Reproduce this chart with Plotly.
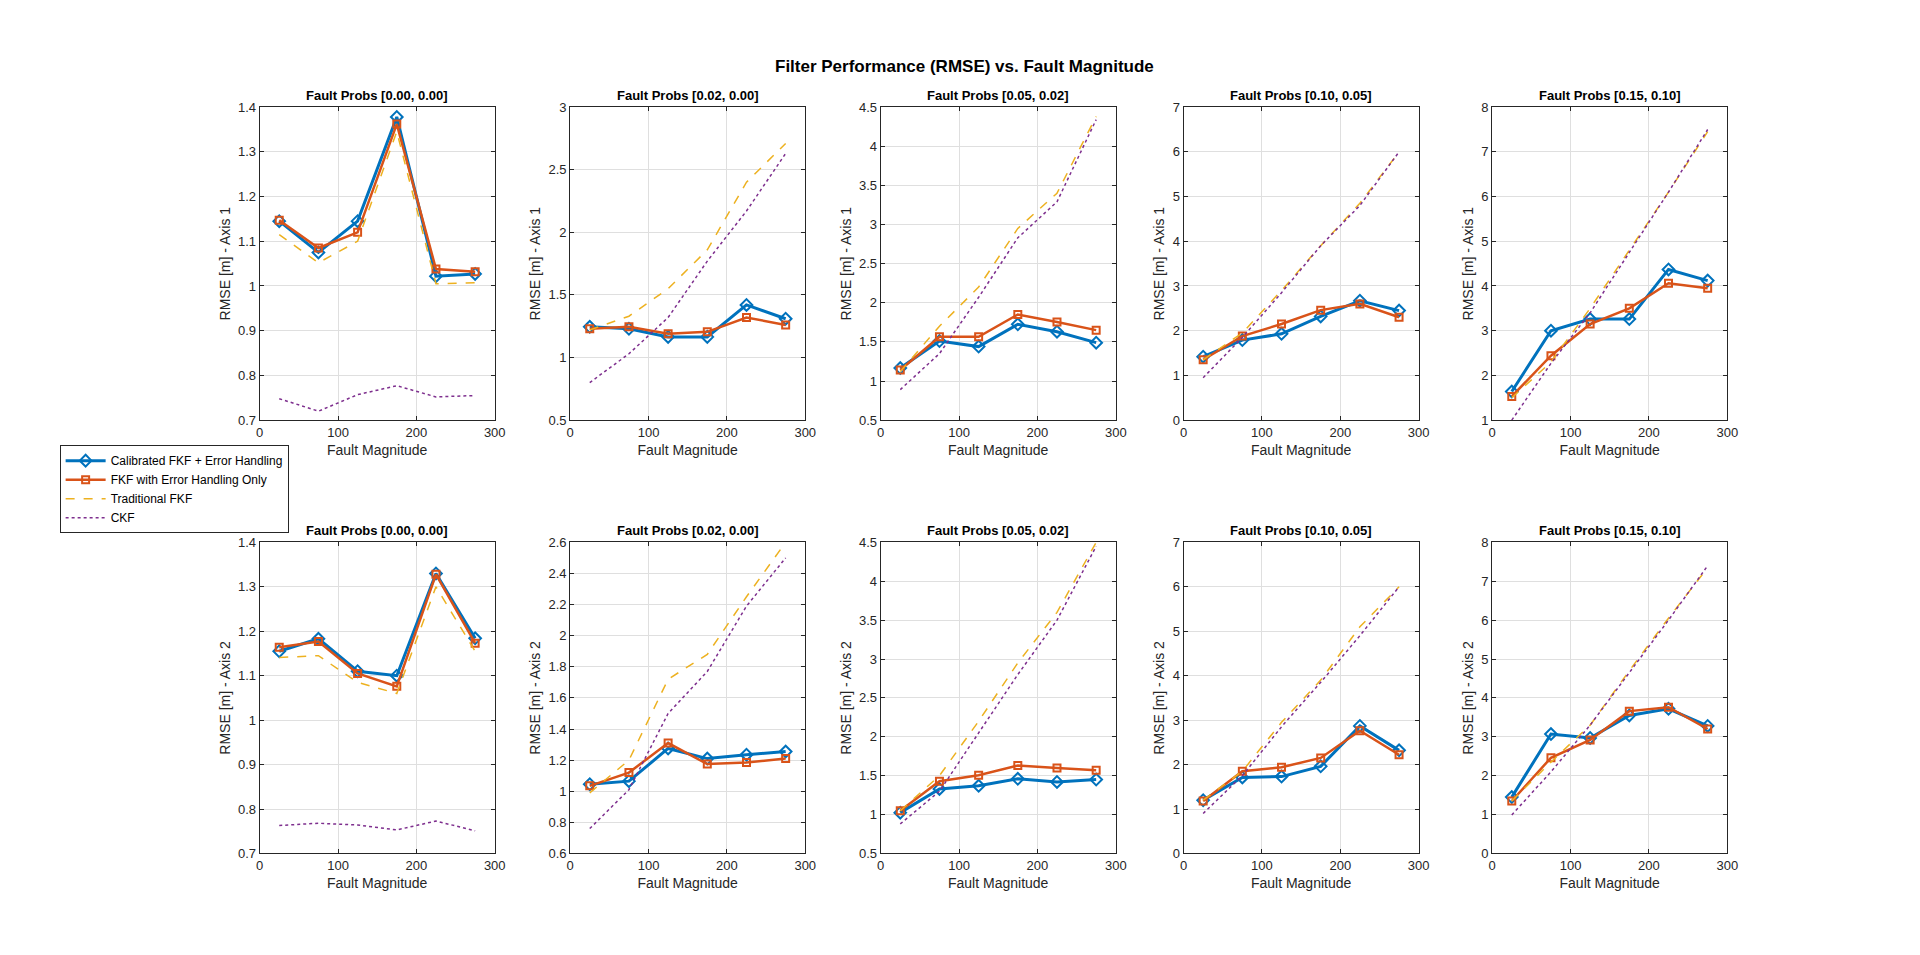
import plotly.graph_objects as go

fault_mag = [25, 75, 125, 175, 225, 275]
probs = ["[0.00, 0.00]", "[0.02, 0.00]", "[0.05, 0.02]", "[0.10, 0.05]", "[0.15, 0.10]"]
names = ["Calibrated FKF + Error Handling", "FKF with Error Handling Only", "Traditional FKF", "CKF"]

# axis 1 (top row)
cal_ax1 = [
    [1.145, 1.075, 1.145, 1.378, 1.022, 1.027],
    [1.245, 1.23, 1.165, 1.165, 1.42, 1.31],
    [1.165, 1.51, 1.44, 1.725, 1.63, 1.49],
    [1.42, 1.79, 1.93, 2.32, 2.67, 2.45],
    [1.64, 3.0, 3.26, 3.26, 4.37, 4.12],
]
eh_ax1 = [
    [1.147, 1.085, 1.12, 1.362, 1.038, 1.032],
    [1.23, 1.245, 1.19, 1.205, 1.32, 1.26],
    [1.14, 1.565, 1.565, 1.85, 1.755, 1.65],
    [1.35, 1.88, 2.15, 2.46, 2.6, 2.3],
    [1.53, 2.44, 3.15, 3.5, 4.06, 3.95],
]
trad_ax1 = [
    [1.115, 1.052, 1.10, 1.345, 1.005, 1.007],
    [1.22, 1.33, 1.55, 1.86, 2.40, 2.71],
    [1.12, 1.7, 2.2, 2.95, 3.4, 4.38],
    [1.35, 1.95, 2.9, 3.9, 4.85, 6.0],
    [1.5, 2.3, 3.5, 4.8, 6.1, 7.45],
]
ckf_ax1 = [
    [0.748, 0.72, 0.757, 0.777, 0.752, 0.755],
    [0.80, 1.03, 1.32, 1.77, 2.17, 2.63],
    [0.89, 1.35, 2.07, 2.83, 3.29, 4.34],
    [0.95, 1.85, 2.85, 3.9, 4.8, 6.0],
    [1.0, 2.27, 3.4, 4.75, 6.1, 7.5],
]

# axis 2 (bottom row)
cal_ax2 = [
    [1.155, 1.183, 1.11, 1.10, 1.33, 1.184],
    [1.045, 1.065, 1.275, 1.21, 1.235, 1.255],
    [1.025, 1.33, 1.37, 1.46, 1.42, 1.45],
    [1.2, 1.71, 1.73, 1.96, 2.87, 2.32],
    [1.45, 3.07, 2.97, 3.55, 3.72, 3.28],
]
eh_ax2 = [
    [1.164, 1.177, 1.105, 1.076, 1.328, 1.173],
    [1.035, 1.12, 1.31, 1.175, 1.185, 1.21],
    [1.05, 1.43, 1.505, 1.63, 1.6, 1.57],
    [1.18, 1.85, 1.94, 2.15, 2.76, 2.22],
    [1.35, 2.46, 2.92, 3.66, 3.76, 3.2],
]
trad_ax2 = [
    [1.141, 1.145, 1.085, 1.06, 1.30, 1.155],
    [0.99, 1.2, 1.72, 1.88, 2.25, 2.6],
    [1.05, 1.5, 2.2, 2.95, 3.6, 4.5],
    [1.2, 1.85, 2.95, 3.9, 5.1, 6.0],
    [1.35, 2.35, 3.3, 4.7, 6.05, 7.35],
]
ckf_ax2 = [
    [0.763, 0.768, 0.764, 0.753, 0.773, 0.751],
    [0.76, 1.01, 1.5, 1.77, 2.19, 2.5],
    [0.88, 1.3, 2.05, 2.8, 3.5, 4.45],
    [0.9, 1.75, 2.85, 3.85, 4.9, 6.0],
    [0.99, 2.1, 3.3, 4.65, 6.0, 7.4],
]

yranges_ax1 = [[0.7, 1.4], [0.5, 3], [0.5, 4.5], [0, 7], [1, 8]]
ydtick_ax1 = [0.1, 0.5, 0.5, 1, 1]
yranges_ax2 = [[0.7, 1.4], [0.6, 2.6], [0.5, 4.5], [0, 7], [0, 8]]
ydtick_ax2 = [0.1, 0.2, 0.5, 1, 1]

colors = ["#0072BD", "#D95319", "#EDB120", "#7E2F8E"]
font = "Liberation Sans, Arial, sans-serif"

x_lefts = [0.130, 0.293, 0.456, 0.615, 0.777]
x_w = 0.1234
y_doms = [[0.569, 0.902], [0.108, 0.439]]

fig = go.Figure()
annotations = []
rows = [(cal_ax1, eh_ax1, trad_ax1, ckf_ax1, yranges_ax1, ydtick_ax1, "RMSE [m] - Axis 1"),
        (cal_ax2, eh_ax2, trad_ax2, ckf_ax2, yranges_ax2, ydtick_ax2, "RMSE [m] - Axis 2")]

n = 0
for r, (cal, eh, trad, ckf, yr, dt, ylab) in enumerate(rows):
    for c in range(5):
        n += 1
        xa = "x" if n == 1 else f"x{n}"
        ya = "y" if n == 1 else f"y{n}"
        show = n == 1
        fig.add_trace(go.Scatter(x=fault_mag, y=cal[c], xaxis=xa, yaxis=ya, name=names[0],
                                 mode="lines+markers", showlegend=show,
                                 line=dict(color=colors[0], width=3),
                                 marker=dict(symbol="diamond-open", size=9, color=colors[0], line=dict(width=2))))
        fig.add_trace(go.Scatter(x=fault_mag, y=eh[c], xaxis=xa, yaxis=ya, name=names[1],
                                 mode="lines+markers", showlegend=show,
                                 line=dict(color=colors[1], width=2.5),
                                 marker=dict(symbol="square-open", size=7, color=colors[1], line=dict(width=2))))
        fig.add_trace(go.Scatter(x=fault_mag, y=trad[c], xaxis=xa, yaxis=ya, name=names[2],
                                 mode="lines", showlegend=show,
                                 line=dict(color=colors[2], width=1.5, dash="dash")))
        fig.add_trace(go.Scatter(x=fault_mag, y=ckf[c], xaxis=xa, yaxis=ya, name=names[3],
                                 mode="lines", showlegend=show,
                                 line=dict(color=colors[3], width=1.5, dash="dot")))
        ax = dict(showline=True, linecolor="#262626", linewidth=1, mirror="ticks",
                  ticks="inside", ticklen=4, tickcolor="#262626",
                  showgrid=True, gridcolor="#dfdfdf", zeroline=False,
                  tickfont=dict(family=font, size=13, color="#262626"))
        fig.layout[f"xaxis{'' if n == 1 else n}"] = dict(
            ax, domain=[x_lefts[c], x_lefts[c] + x_w], anchor=ya, range=[0, 300], dtick=100,
            title=dict(text="Fault Magnitude", font=dict(family=font, size=14, color="#262626"), standoff=6))
        fig.layout[f"yaxis{'' if n == 1 else n}"] = dict(
            ax, domain=y_doms[r], anchor=xa, range=yr[c], dtick=dt[c],
            title=dict(text=ylab, font=dict(family=font, size=14, color="#262626"), standoff=4))
        annotations.append(dict(text="<b>Fault Probs " + probs[c] + "</b>", showarrow=False,
                                xref="paper", yref="paper", x=x_lefts[c] + x_w / 2, y=y_doms[r][1],
                                xanchor="center", yanchor="bottom", yshift=2,
                                font=dict(family=font, size=13, color="black")))

annotations.append(dict(text="<b>Filter Performance (RMSE) vs. Fault Magnitude</b>", showarrow=False,
                        xref="paper", yref="paper", x=0.5, y=0.945, xanchor="center", yanchor="middle",
                        font=dict(family=font, size=17, color="black")))

fig.update_layout(
    width=1920, height=955, paper_bgcolor="white", plot_bgcolor="white",
    margin=dict(l=0, r=0, t=0, b=0),
    annotations=annotations,
    legend=dict(x=0.025, y=1 - 437 / 955, xanchor="left", yanchor="top",
                bgcolor="white", bordercolor="#262626", borderwidth=1,
                font=dict(family=font, size=12, color="black"),
                tracegroupgap=0, itemwidth=40),
)

fig.write_html("out.html")
